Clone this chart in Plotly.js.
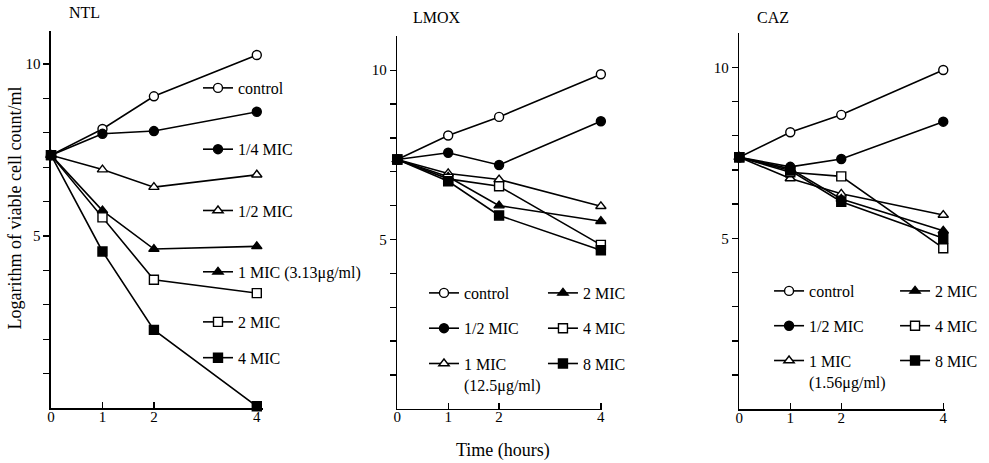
<!DOCTYPE html>
<html>
<head>
<meta charset="utf-8">
<script src="https://cdn.plot.ly/plotly-3.0.1.min.js"></script>
<style>html,body{margin:0;padding:0;background:#fff;}#chart{width:989px;height:463px;}</style>
</head>
<body>
<div id="chart"></div>
<script>
const timeHours = [0, 1, 2, 4];
const xTickVals = [0, 1, 2, 4];
const yTickVals = [1, 2, 3, 4, 5, 6, 7, 8, 9, 10];
const yTickText = ['', '', '', '', '5', '', '', '', '', '10'];

// NTL
const ntlControl = [7.35, 8.11, 9.06, 10.26];
const ntlQuarter = [7.35, 7.97, 8.05, 8.61];
const ntlHalf    = [7.35, 6.93, 6.42, 6.78];
const ntlOne     = [7.35, 5.74, 4.62, 4.70];
const ntlTwo     = [7.35, 5.54, 3.73, 3.34];
const ntlFour    = [7.35, 4.55, 2.27, 0.05];
// LMOX
const lmoxControl = [7.36, 8.07, 8.62, 9.88];
const lmoxHalf    = [7.36, 7.56, 7.20, 8.49];
const lmoxOne     = [7.36, 6.95, 6.77, 5.98];
const lmoxTwo     = [7.36, 6.85, 6.00, 5.54];
const lmoxFour    = [7.36, 6.79, 6.57, 4.84];
const lmoxEight   = [7.36, 6.72, 5.71, 4.68];
// CAZ
const cazControl = [7.37, 8.10, 8.61, 9.92];
const cazHalf    = [7.37, 7.09, 7.32, 8.41];
const cazOne     = [7.37, 6.75, 6.30, 5.68];
const cazTwo     = [7.37, 7.03, 6.15, 5.22];
const cazFour    = [7.37, 6.93, 6.81, 4.71];
const cazEight   = [7.37, 6.98, 6.07, 5.00];

const ntlNames  = ['control', '1/4 MIC', '1/2 MIC', '1 MIC (3.13μg/ml)', '2 MIC', '4 MIC'];
const lmoxNames = ['control', '1/2 MIC', '1 MIC<br>(12.5μg/ml)', '2 MIC', '4 MIC', '8 MIC'];
const cazNames  = ['control', '1/2 MIC', '1 MIC<br>(1.56μg/ml)', '2 MIC', '4 MIC', '8 MIC'];

const FONT = 'Liberation Serif, Times New Roman, serif';
const styles = [
  {symbol: 'circle', color: '#fff'},
  {symbol: 'circle', color: '#000'},
  {symbol: 'triangle-up', color: '#fff'},
  {symbol: 'triangle-up', color: '#000'},
  {symbol: 'square', color: '#fff'},
  {symbol: 'square', color: '#000'}
];

function mk(y, name, i, xa, ya, legend, grp) {
  return {
    x: timeHours, y: y, name: name, type: 'scatter', mode: 'lines+markers',
    xaxis: xa, yaxis: ya, legend: legend, legendgroup: grp,
    cliponaxis: false,
    line: {color: '#000', width: 1.6},
    marker: {symbol: styles[i].symbol, color: styles[i].color, size: 9,
             line: {color: '#000', width: 1.4}}
  };
}

const ntl = [ntlControl, ntlQuarter, ntlHalf, ntlOne, ntlTwo, ntlFour];
const lmox = [lmoxControl, lmoxHalf, lmoxOne, lmoxTwo, lmoxFour, lmoxEight];
const caz = [cazControl, cazHalf, cazOne, cazTwo, cazFour, cazEight];

const data = [];
ntl.forEach((y, i) => data.push(mk(y, ntlNames[i], i, 'x', 'y', i < 4 ? 'legend' : 'legend2', 'n' + i)));
lmox.forEach((y, i) => data.push(mk(y, lmoxNames[i], i, 'x2', 'y2', i < 3 ? 'legend3' : 'legend4', 'l' + i)));
caz.forEach((y, i) => data.push(mk(y, cazNames[i], i, 'x3', 'y3', i < 3 ? 'legend5' : 'legend6', 'c' + i)));

function xax(domain, range, anchor) {
  return {domain: domain, range: range, anchor: anchor, tickvals: xTickVals,
    ticks: 'inside', ticklen: 6, tickwidth: 1.3, tickcolor: '#000', ticklabelstandoff: -6,
    showline: true, linecolor: '#000', linewidth: 1.6, showgrid: false, zeroline: false,
    tickfont: {family: FONT, size: 15, color: '#000'}, fixedrange: true};
}
function yax(domain, range, anchor) {
  return {domain: domain, range: range, anchor: anchor, tickvals: yTickVals, ticktext: yTickText,
    ticks: 'outside', ticklen: 6, tickwidth: 1.3, tickcolor: '#000',
    showline: true, linecolor: '#000', linewidth: 1.6, showgrid: false, zeroline: false,
    tickfont: {family: FONT, size: 15, color: '#000'}, fixedrange: true};
}
function leg(x, y, gap) {
  return {x: x, y: y, xanchor: 'left', yanchor: 'top', bgcolor: 'rgba(0,0,0,0)',
    font: {family: FONT, size: 16, color: '#000'}, tracegroupgap: gap, traceorder: 'grouped',
    valign: 'top', itemclick: false, itemdoubleclick: false};
}
function ann(text, x, y, size, angle) {
  return {text: text, x: x, y: y, xref: 'paper', yref: 'paper', showarrow: false,
    xanchor: 'center', yanchor: 'middle', textangle: angle || 0,
    font: {family: FONT, size: size, color: '#000'}};
}

const layout = {
  width: 989, height: 463,
  margin: {l: 0, r: 0, t: 0, b: 0},
  paper_bgcolor: '#fff', plot_bgcolor: 'rgba(0,0,0,0)',
  showlegend: true,
  xaxis:  xax([0.0516, 0.2659], [0, 4.12], 'y'),
  yaxis:  yax([0.1188, 0.9324], [0, 10.95], 'x'),
  xaxis2: xax([0.4017, 0.6091], [0, 4.03], 'y2'),
  yaxis2: yax([0.1171, 0.9216], [0, 11], 'x2'),
  xaxis3: xax([0.7475, 0.9553], [0, 4.03], 'y3'),
  yaxis3: yax([0.1160, 0.9285], [0, 11], 'x3'),
  legend:  leg(0.2002, 0.8467, 37.5),
  legend2: leg(0.2002, 0.3413, 12),
  legend3: leg(0.4287, 0.4039, 11.5),
  legend4: leg(0.5490, 0.4039, 11.5),
  legend5: leg(0.7776, 0.4082, 11),
  legend6: leg(0.9050, 0.4082, 11),
  annotations: [
    ann('NTL', 0.0859, 0.972, 16),
    ann('LMOX', 0.4419, 0.963, 16),
    ann('CAZ', 0.7816, 0.963, 16),
    ann('Logarithm of viable cell count/ml', 0.0147, 0.5508, 18, -90),
    ann('Time (hours)', 0.5086, 0.028, 18)
  ]
};

Plotly.newPlot('chart', data, layout, {staticPlot: true, displayModeBar: false});
</script>
</body>
</html>
